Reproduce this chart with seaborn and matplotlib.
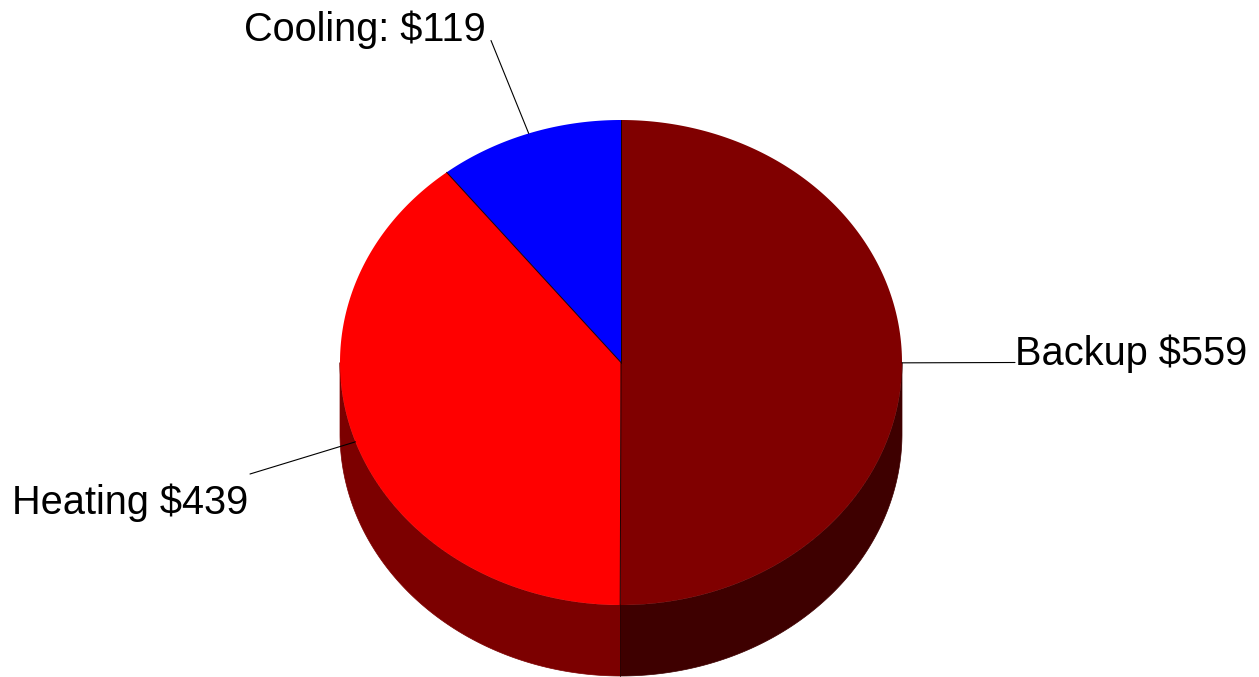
import numpy as np
import matplotlib
matplotlib.use("Agg")
import matplotlib.pyplot as plt
from matplotlib.patches import Polygon
import seaborn as sns

# Annual cost breakdown
categories = ["Backup", "Heating", "Cooling"]
values = [559, 439, 119]
label_formats = ["{} ${}", "{} ${}", "{}: ${}"]

top_colors = sns.color_palette(["#800000", "#FF0000", "#0000FF"])
side_colors = sns.color_palette(["#3E0000", "#7C0000", "#00007C"])

sns.set_theme(style="white")
plt.rcParams["font.family"] = ["Liberation Sans", "DejaVu Sans"]

W, H = 1259, 677
fig = plt.figure(figsize=(W / 100, H / 100), dpi=100)
ax = fig.add_axes([0, 0, 1, 1])
ax.set_xlim(0, W)
ax.set_ylim(H, 0)
ax.axis("off")

# Pie disc geometry (screen units)
cx, cy = 621, 362.5
rx, ry = 281, 242.5
depth = 71


def pt(theta_deg, dy=0.0):
    t = np.radians(theta_deg)
    return cx + rx * np.cos(t), cy - ry * np.sin(t) + dy


total = float(sum(values))
angles = []
start = 90.0
for v in values:
    sweep = 360.0 * v / total
    angles.append((start - sweep, start))   # clockwise from the top
    start -= sweep

# Side walls (front half only: angles between 180 and 360)
for (a0, a1), col in zip(angles, side_colors):
    lo, hi = a0 % 360, a0 % 360 + (a1 - a0)
    segs = []
    for off in (-360, 0, 360):
        s, e = max(lo + off, 180), min(hi + off, 360)
        if e > s:
            segs.append((s, e))
    for s, e in segs:
        th = np.linspace(s, e, 200)
        top = np.array([pt(t) for t in th])
        bot = np.array([pt(t, depth) for t in th[::-1]])
        ax.add_patch(Polygon(np.vstack([top, bot]), closed=True,
                             facecolor=col, edgecolor=col, linewidth=0.5))

# Seam between the two visible walls
sx, sy = pt(angles[0][0])
ax.plot([sx, sx], [sy, sy + depth], color="#200000", linewidth=0.6)

# Top faces
for (a0, a1), col in zip(angles, top_colors):
    th = np.linspace(a1, a0, 300)
    arc = np.array([pt(t) for t in th])
    poly = np.vstack([[cx, cy], arc])
    ax.add_patch(Polygon(poly, closed=True, facecolor=col, edgecolor="none"))

# Radial edges
for a0, a1 in angles:
    x, y = pt(a1)
    ax.plot([cx, x], [cy, y], color="#1a0000", linewidth=0.7)

# Labels with leader lines
label_pos = [(1015, 365), (12, 514), (244, 41)]
leader_end = [(1015, 362.5), (250, 474), (491, 40.5)]
for (a0, a1), cat, v, fmt, (tx, ty), (lx, ly) in zip(
        angles, categories, values, label_formats, label_pos, leader_end):
    mx, my = pt((a0 + a1) / 2)
    ax.plot([mx, lx], [my, ly], color="black", linewidth=0.8)
    ax.text(tx, ty, fmt.format(cat, v), fontsize=28.6, color="black",
            ha="left", va="baseline")

fig.savefig("out.png", dpi=100, facecolor="white")
